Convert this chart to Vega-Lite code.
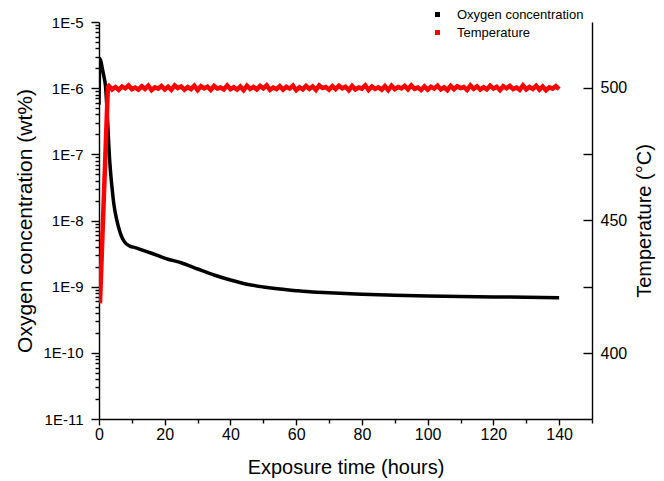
{
  "$schema": "https://vega.github.io/schema/vega-lite/v6.json",
  "width": 493,
  "height": 397,
  "autosize": "none",
  "padding": {"left": 99, "top": 22, "right": 72, "bottom": 62},
  "background": "white",
  "config": {
    "view": {"stroke": null},
    "font": "Liberation Sans",
    "axis": {"grid": false, "ticks": true, "domainColor": "black", "tickColor": "black", "labelColor": "black", "titleColor": "black", "labelFont": "Liberation Sans", "titleFont": "Liberation Sans", "labelFontSize": 16, "titleFontSize": 20, "titleFontWeight": "normal", "domainWidth": 1.4, "tickWidth": 1.4}
  },
  "datasets": {
    "oxy": [
      {"t": 0, "o2": 5.6e-7}, {"t": 0.3, "o2": 2.8e-6}, {"t": 1.0, "o2": 2.0e-6}, {"t": 1.5, "o2": 1.5e-6},
      {"t": 2.0, "o2": 1.05e-6}, {"t": 2.6, "o2": 3.3e-7}, {"t": 3.1, "o2": 1.05e-7}, {"t": 3.5, "o2": 5.5e-8},
      {"t": 4.0, "o2": 3.0e-8}, {"t": 4.5, "o2": 1.8e-8}, {"t": 5.4, "o2": 1.02e-8}, {"t": 6.5, "o2": 6.4e-9},
      {"t": 7.7, "o2": 4.8e-9}, {"t": 9.4, "o2": 4.1e-9}, {"t": 11, "o2": 3.9e-9}, {"t": 13, "o2": 3.6e-9},
      {"t": 16, "o2": 3.2e-9}, {"t": 21, "o2": 2.6e-9}, {"t": 25, "o2": 2.3e-9}, {"t": 30, "o2": 1.85e-9},
      {"t": 35, "o2": 1.5e-9}, {"t": 40, "o2": 1.26e-9}, {"t": 45, "o2": 1.09e-9}, {"t": 50, "o2": 9.9e-10},
      {"t": 55, "o2": 9.2e-10}, {"t": 60, "o2": 8.7e-10}, {"t": 65, "o2": 8.3e-10}, {"t": 70, "o2": 8.1e-10},
      {"t": 75, "o2": 7.9e-10}, {"t": 80, "o2": 7.7e-10}, {"t": 90, "o2": 7.4e-10}, {"t": 100, "o2": 7.2e-10},
      {"t": 110, "o2": 7.1e-10}, {"t": 120, "o2": 7.0e-10}, {"t": 130, "o2": 6.9e-10}, {"t": 140, "o2": 6.8e-10}
    ],
    "temp": [
      {"t": 0.3, "T": 418.8}, {"t": 2.7, "T": 500.3},
      {"t": 3, "T": 500.7}, {"t": 4, "T": 499.4}, {"t": 5, "T": 500.3}, {"t": 6, "T": 499.2}, {"t": 7, "T": 500.5},
      {"t": 8, "T": 499.8}, {"t": 9, "T": 500.9}, {"t": 10, "T": 499.5}, {"t": 11, "T": 500.1}, {"t": 12, "T": 499.3},
      {"t": 13, "T": 500.6}, {"t": 14, "T": 499.6}, {"t": 15, "T": 500.8}, {"t": 16, "T": 499.1}, {"t": 17, "T": 500.2},
      {"t": 18, "T": 499.7}, {"t": 19, "T": 500.7}, {"t": 20, "T": 499.4}, {"t": 21, "T": 500.4}, {"t": 22, "T": 499.2},
      {"t": 23, "T": 500.9}, {"t": 24, "T": 499.9}, {"t": 25, "T": 500.5}, {"t": 26, "T": 499.3}, {"t": 27, "T": 500.3},
      {"t": 28, "T": 499.5}, {"t": 29, "T": 500.8}, {"t": 30, "T": 499.1}, {"t": 31, "T": 500.6}, {"t": 32, "T": 499.8},
      {"t": 33, "T": 500.4}, {"t": 34, "T": 499.2}, {"t": 35, "T": 500.7}, {"t": 36, "T": 499.7}, {"t": 37, "T": 500.1},
      {"t": 38, "T": 499.4}, {"t": 39, "T": 500.9}, {"t": 40, "T": 499.5}, {"t": 41, "T": 500.2}, {"t": 42, "T": 499.3},
      {"t": 43, "T": 500.5}, {"t": 44, "T": 499.1}, {"t": 45, "T": 500.8}, {"t": 46, "T": 499.6}, {"t": 47, "T": 500.3},
      {"t": 48, "T": 499.4}, {"t": 49, "T": 500.7}, {"t": 50, "T": 499.8}, {"t": 51, "T": 500.9}, {"t": 52, "T": 499.2},
      {"t": 53, "T": 500.1}, {"t": 54, "T": 499.5}, {"t": 55, "T": 500.6}, {"t": 56, "T": 499.3}, {"t": 57, "T": 500.4},
      {"t": 58, "T": 499.7}, {"t": 59, "T": 500.8}, {"t": 60, "T": 499.1}, {"t": 61, "T": 500.2}, {"t": 62, "T": 499.4},
      {"t": 63, "T": 500.7}, {"t": 64, "T": 499.6}, {"t": 65, "T": 500.5}, {"t": 66, "T": 499.2}, {"t": 67, "T": 500.9},
      {"t": 68, "T": 499.9}, {"t": 69, "T": 500.3}, {"t": 70, "T": 499.3}, {"t": 71, "T": 500.6}, {"t": 72, "T": 499.5},
      {"t": 73, "T": 500.8}, {"t": 74, "T": 499.8}, {"t": 75, "T": 500.4}, {"t": 76, "T": 499.1}, {"t": 77, "T": 500.7},
      {"t": 78, "T": 499.4}, {"t": 79, "T": 500.1}, {"t": 80, "T": 499.7}, {"t": 81, "T": 500.9}, {"t": 82, "T": 499.2},
      {"t": 83, "T": 500.5}, {"t": 84, "T": 499.6}, {"t": 85, "T": 500.2}, {"t": 86, "T": 499.3}, {"t": 87, "T": 500.6},
      {"t": 88, "T": 499.1}, {"t": 89, "T": 500.8}, {"t": 90, "T": 499.5}, {"t": 91, "T": 500.3}, {"t": 92, "T": 499.8},
      {"t": 93, "T": 500.7}, {"t": 94, "T": 499.4}, {"t": 95, "T": 500.9}, {"t": 96, "T": 499.6}, {"t": 97, "T": 500.1},
      {"t": 98, "T": 499.2}, {"t": 99, "T": 500.5}, {"t": 100, "T": 499.3}, {"t": 101, "T": 500.4}, {"t": 102, "T": 499.7},
      {"t": 103, "T": 500.8}, {"t": 104, "T": 499.4}, {"t": 105, "T": 500.2}, {"t": 106, "T": 499.1}, {"t": 107, "T": 500.7},
      {"t": 108, "T": 499.5}, {"t": 109, "T": 500.6}, {"t": 110, "T": 499.9}, {"t": 111, "T": 500.3}, {"t": 112, "T": 499.2},
      {"t": 113, "T": 500.9}, {"t": 114, "T": 499.6}, {"t": 115, "T": 500.5}, {"t": 116, "T": 499.3}, {"t": 117, "T": 500.2},
      {"t": 118, "T": 499.4}, {"t": 119, "T": 500.8}, {"t": 120, "T": 499.7}, {"t": 121, "T": 500.4}, {"t": 122, "T": 499.1},
      {"t": 123, "T": 500.6}, {"t": 124, "T": 499.8}, {"t": 125, "T": 500.7}, {"t": 126, "T": 499.5}, {"t": 127, "T": 500.1},
      {"t": 128, "T": 499.2}, {"t": 129, "T": 500.9}, {"t": 130, "T": 499.4}, {"t": 131, "T": 500.3}, {"t": 132, "T": 499.6},
      {"t": 133, "T": 500.8}, {"t": 134, "T": 499.3}, {"t": 135, "T": 500.5}, {"t": 136, "T": 499.1}, {"t": 137, "T": 500.2},
      {"t": 138, "T": 499.7}, {"t": 139, "T": 500.6}, {"t": 140, "T": 499.5}
    ]
  },
  "layer": [
    {
      "layer": [
        {
          "data": {"name": "oxy"},
          "mark": {"type": "line", "strokeWidth": 3.5, "interpolate": "monotone", "clip": true},
          "encoding": {
            "x": {"field": "t", "type": "quantitative", "scale": {"domain": [0, 150], "nice": false, "zero": false},
              "axis": {"orient": "bottom", "title": "Exposure time (hours)", "values": [0, 20, 40, 60, 80, 100, 120, 140],
                "tickSize": 6, "labelPadding": 1, "titlePadding": 15, "labelFlush": false}},
            "y": {"field": "o2", "type": "quantitative", "scale": {"type": "log", "domain": [1e-11, 1e-5], "nice": false},
              "axis": {"orient": "left", "title": "Oxygen concentration (wt%)", "labelFontSize": 15, "titleFontSize": 21,
                "values": [1e-11, 1e-10, 1e-9, 1e-8, 1e-7, 1e-6, 1e-5],
                "labelExpr": "'1E' + round(log(datum.value)/LN10)",
                "tickSize": 8, "labelPadding": 8, "titlePadding": 7}},
            "color": {"datum": "Oxygen concentration", "type": "nominal",
              "scale": {"domain": ["Oxygen concentration", "Temperature"], "range": ["black", "#ff0000"]},
              "legend": {"title": null, "orient": "none", "legendX": 332, "legendY": -14, "symbolType": "square", "symbolSize": 25,
                "labelFontSize": 13, "labelFont": "Liberation Sans", "labelColor": "black", "rowPadding": 4, "labelOffset": 13,
                "encode": {"symbols": {"update": {"fill": {"scale": "color", "field": "value"}, "strokeWidth": {"value": 0}}}}}}
          }
        },
        {
          "data": {"name": "oxy"},
          "mark": {"type": "line", "strokeOpacity": 0},
          "encoding": {
            "x": {"field": "t", "type": "quantitative", "scale": {"domain": [0, 150], "nice": false, "zero": false},
              "axis": {"orient": "bottom", "title": null, "labels": false, "domain": false, "tickSize": 4,
                "values": [10, 30, 50, 70, 90, 110, 130, 150]}},
            "y": {"field": "o2", "type": "quantitative", "scale": {"type": "log", "domain": [1e-11, 1e-5], "nice": false},
              "axis": {"orient": "left", "title": null, "labels": false, "domain": false, "tickSize": 4,
                "values": [2e-11,3e-11,4e-11,5e-11,6e-11,7e-11,8e-11,9e-11,2e-10,3e-10,4e-10,5e-10,6e-10,7e-10,8e-10,9e-10,2e-9,3e-9,4e-9,5e-9,6e-9,7e-9,8e-9,9e-9,2e-8,3e-8,4e-8,5e-8,6e-8,7e-8,8e-8,9e-8,2e-7,3e-7,4e-7,5e-7,6e-7,7e-7,8e-7,9e-7,2e-6,3e-6,4e-6,5e-6,6e-6,7e-6,8e-6,9e-6]}}
          }
        }
      ],
      "resolve": {"axis": {"x": "independent", "y": "independent"}}
    },
    {
      "layer": [
        {
          "data": {"name": "temp"},
          "mark": {"type": "line", "strokeWidth": 4.5, "clip": true},
          "encoding": {
            "x": {"field": "t", "type": "quantitative", "axis": null},
            "y": {"field": "T", "type": "quantitative", "scale": {"domain": [375.2, 524.8], "nice": false, "zero": false},
              "axis": {"orient": "right", "title": "Temperature (°C)", "values": [400, 450, 500],
                "tickSize": 0, "labelPadding": 8, "titleAngle": -90, "titleBaseline": "top", "titlePadding": 8}},
            "color": {"datum": "Temperature", "type": "nominal"}
          }
        },
        {
          "data": {"name": "temp"},
          "mark": {"type": "line", "strokeOpacity": 0},
          "encoding": {
            "x": {"field": "t", "type": "quantitative", "axis": null},
            "y": {"field": "T", "type": "quantitative", "scale": {"domain": [375.2, 524.8], "nice": false, "zero": false},
              "axis": {"orient": "right", "title": null, "labels": false, "domain": false, "tickSize": 9, "offset": -9,
                "values": [400, 425, 450, 475, 500]}}
          }
        }
      ],
      "resolve": {"axis": {"y": "independent"}}
    }
  ],
  "resolve": {"scale": {"y": "independent"}, "axis": {"y": "independent", "x": "independent"}}
}
